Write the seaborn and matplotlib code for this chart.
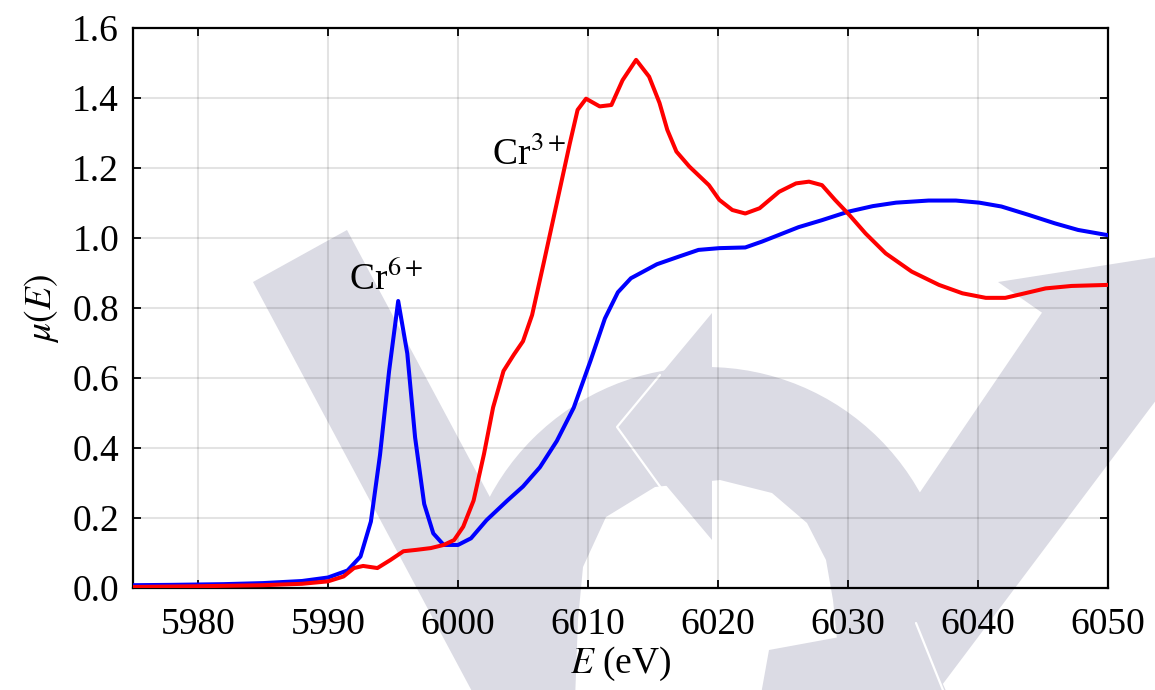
import numpy as np
import pandas as pd
import matplotlib
matplotlib.use("Agg")
import matplotlib.pyplot as plt
import matplotlib.patches as mpatches
import matplotlib.lines as mlines
from matplotlib.transforms import Affine2D
import seaborn as sns

# Cr K-edge XANES spectra: absorption mu(E) versus photon energy (eV)
energy_cr6 = [5975, 5978, 5982, 5985, 5988, 5990, 5991.5, 5992.5, 5993.3, 5994,
              5994.7, 5995.4, 5996.1, 5996.7, 5997.4, 5998.1, 5998.9, 6000, 6001,
              6002.2, 6003.8, 6005, 6006.3, 6007.6, 6008.9, 6010.2, 6011.3, 6012.3,
              6013.3, 6015.3, 6017, 6018.5, 6020.1, 6022.1, 6023.4, 6024.7, 6026.2,
              6028, 6030, 6031.9, 6033.7, 6036.2, 6038.3, 6040.1, 6041.8, 6043.9,
              6045.9, 6047.7, 6050]
mu_cr6 = [0.008, 0.009, 0.011, 0.014, 0.02, 0.03, 0.05, 0.09, 0.19, 0.38,
          0.62, 0.82, 0.67, 0.43, 0.24, 0.156, 0.123, 0.123, 0.142,
          0.194, 0.25, 0.29, 0.345, 0.42, 0.515, 0.65, 0.77, 0.845,
          0.885, 0.925, 0.947, 0.966, 0.971, 0.973, 0.99, 1.009, 1.031,
          1.051, 1.075, 1.091, 1.101, 1.107, 1.107, 1.101, 1.09, 1.066,
          1.042, 1.023, 1.008]

energy_cr3 = [5975, 5980, 5985, 5988, 5990, 5991.2, 5992, 5992.7, 5993.8, 5994.8,
              5995.8, 5996.8, 5997.9, 5998.9, 5999.7, 6000.4, 6001.2, 6002, 6002.7,
              6003.5, 6004.3, 6005, 6005.7, 6006.6, 6007.6, 6008.6, 6009.2, 6009.85,
              6010.9, 6011.8, 6012.66, 6013.7, 6014.7, 6015.5, 6016.1, 6016.8,
              6017.8, 6019.3, 6020.1, 6021.1, 6022.1, 6023.2, 6024.7, 6026, 6027,
              6028, 6029, 6030.1, 6031.35, 6032.9, 6034.9, 6037, 6038.8, 6040.6,
              6042.1, 6043.6, 6045.2, 6047.2, 6050]
mu_cr3 = [0.003, 0.005, 0.008, 0.012, 0.019, 0.033, 0.057, 0.063, 0.057, 0.08,
          0.105, 0.109, 0.114, 0.123, 0.137, 0.175, 0.25, 0.383, 0.516,
          0.62, 0.667, 0.705, 0.78, 0.93, 1.10, 1.27, 1.366, 1.398,
          1.376, 1.38, 1.451, 1.509, 1.461, 1.386, 1.309, 1.247,
          1.204, 1.151, 1.109, 1.08, 1.07, 1.085, 1.132, 1.156, 1.161,
          1.151, 1.109, 1.066, 1.013, 0.956, 0.904, 0.866, 0.842, 0.829,
          0.829, 0.842, 0.856, 0.863, 0.866]

species = ["Cr6+", "Cr3+"]
species_colors = {"Cr6+": "#0000ff", "Cr3+": "#ff0000"}
x_ticks = [5980, 5990, 6000, 6010, 6020, 6030, 6040, 6050]
y_ticks = [0.0, 0.2, 0.4, 0.6, 0.8, 1.0, 1.2, 1.4, 1.6]

df = pd.concat([
    pd.DataFrame({"E": energy_cr6, "mu": mu_cr6, "species": "Cr6+"}),
    pd.DataFrame({"E": energy_cr3, "mu": mu_cr3, "species": "Cr3+"}),
], ignore_index=True)

sns.set_style("ticks")
plt.rcParams["font.family"] = ["Liberation Serif", "DejaVu Serif"]
plt.rcParams["mathtext.fontset"] = "stix"
plt.rcParams["text.color"] = "black"
plt.rcParams["axes.labelcolor"] = "black"
plt.rcParams["xtick.color"] = "black"
plt.rcParams["ytick.color"] = "black"

W, H = 1155, 690
fig = plt.figure(figsize=(W / 100, H / 100), dpi=100, facecolor="white")
ax = fig.add_axes([133 / W, 1 - 588 / H, (1108 - 133) / W, (588 - 28) / H])
ax.set_facecolor("none")

# background emblem, laid out in pixel units (origin top-left)
px = Affine2D().scale(1 / W, -1 / H).translate(0, 1) + fig.transFigure
shade = "#dbdbe4"


def poly(pts, color=shade, z=-5):
    p = mpatches.Polygon(pts, closed=True, facecolor=color, edgecolor="none",
                         transform=px, zorder=z)
    fig.add_artist(p)


def vband(x0, y0, x1, y1, slope, y_end):
    return [(x0, y0), (x1, y1),
            (x1 + slope * (y_end - y1), y_end), (x0 + slope * (y_end - y0), y_end)]


poly(vband(253, 282, 347, 230, 0.535, 700))
fig.add_artist(mpatches.Circle((706, 612), 245, facecolor=shade, edgecolor="none",
                               transform=px, zorder=-5))
# right stroke, tucked under the arrow head so no seam shows
poly([(1056, 292), (1175, 375), (1145 - 0.68 * 315, 700), (1042 - 0.68 * 387, 700)])
poly([(998, 282), (1170, 255), (1170, 402)])
poly([(575, 700), (578, 620), (583, 567), (606, 517), (655, 487), (720, 480),
      (772, 493), (807, 523), (826, 560), (833, 600), (838, 650), (840, 700)],
     color="white", z=-4)
poly([(617, 427), (712, 313), (712, 540)], z=-3)
fig.add_artist(mlines.Line2D([660, 617, 664], [375, 427, 492], color="white",
                             lw=1.6, transform=px, zorder=-3))
poly([(769, 650), (916, 623), (950, 700), (760, 700)], z=-3)
fig.add_artist(mlines.Line2D([916, 947], [623, 700], color="white", lw=1.6,
                             transform=px, zorder=-3))

ax.grid(True, color="black", alpha=0.11, lw=1.5, zorder=0)
ax.set_axisbelow(True)

sns.lineplot(data=df, x="E", y="mu", hue="species", hue_order=species,
             palette=species_colors, estimator=None, sort=False, legend=False,
             lw=2.9, ax=ax, zorder=3)

ax.set_xlim(5975, 6050)
ax.set_ylim(0, 1.6)
ax.set_xticks(x_ticks)
ax.set_yticks(y_ticks)
ax.set_yticklabels([f"{v:.1f}" for v in y_ticks])
ax.tick_params(direction="in", length=5.5, width=1.3, color="black",
               labelcolor="black", labelsize=27, top=True, right=True)
ax.tick_params(axis="x", pad=14)
ax.tick_params(axis="y", pad=10)
for s in ax.spines.values():
    s.set_linewidth(1.6)
    s.set_color("black")
    s.set_visible(True)

ax.set_xlabel(r"$E$ (eV)", fontsize=27, labelpad=2, color="black")
ax.set_ylabel(r"$\mu(E)$", fontsize=27, labelpad=8, color="black")

ax.text(5991.6, 0.851, r"Cr$^{6+}$", fontsize=27, ha="left", va="baseline",
        color="black", zorder=4)
ax.text(6002.65, 1.209, r"Cr$^{3+}$", fontsize=27, ha="left", va="baseline",
        color="black", zorder=4)

fig.savefig("out.png", dpi=100, facecolor="white")
